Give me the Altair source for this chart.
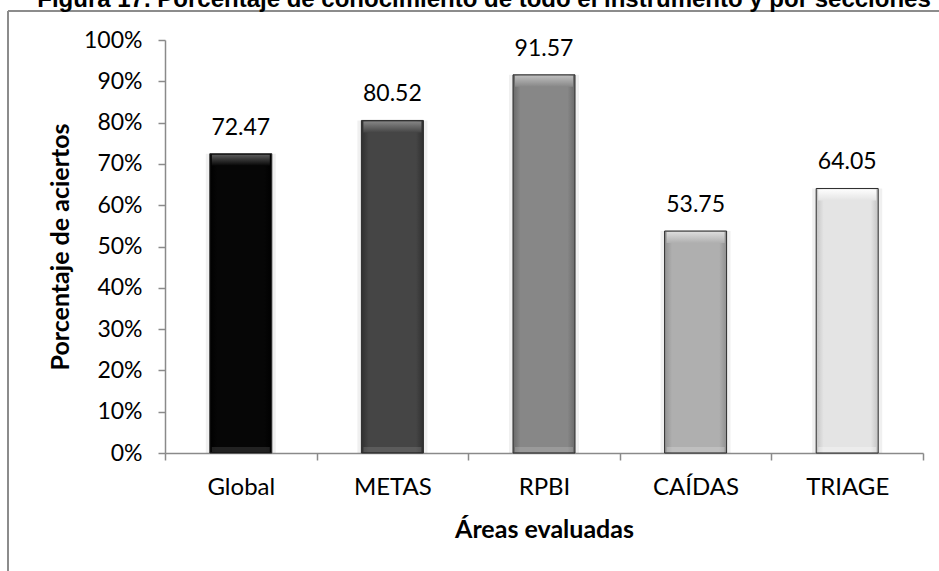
import altair as alt
import pandas as pd

# Areas evaluated and percentage of correct answers
areas = ["Global", "METAS", "RPBI", "CAÍDAS", "TRIAGE"]
pct = [72.47, 80.52, 91.57, 53.75, 64.05]

# Bar styling (base fill, darker edge, lighter top bevel)
base = ["#060606", "#454545", "#878787", "#afafaf", "#e4e4e4"]
edge = ["#000000", "#303030", "#6a6a6a", "#909090", "#c4c4c4"]
bevel = ["#5a5a5a", "#858585", "#bdbdbd", "#dcdcdc", "#fdfdfd"]

TITLE = "Figura 17. Porcentaje de conocimiento de todo el instrumento y por secciones"
X_TITLE = "Áreas evaluadas"
Y_TITLE = "Porcentaje de aciertos"

df = pd.DataFrame({"area": areas, "pct": pct})

W, H = 758, 413
LEFT, TOP = 165, 40
FONT = "Lato"
AXIS_GRAY = "#8a8a8a"

x_scale = alt.Scale(domain=areas, paddingInner=0, paddingOuter=0)
y_scale = alt.Scale(domain=[0, 1])

x_axis = alt.Axis(
    titleFont=FONT, titleFontSize=25, titleFontWeight="bold", titleColor="#000",
    titleBaseline="alphabetic", titleAlign="center", titleX=W / 2, titleY=84,
    labelFont=FONT, labelFontSize=24, labelColor="#000", labelAngle=0,
    labelBaseline="alphabetic", labelPadding=34,
    tickBand="extent", tickSize=7, tickColor=AXIS_GRAY, tickWidth=1.5,
    domainColor=AXIS_GRAY, domainWidth=1.5,
)
y_axis = alt.Axis(
    titleFont=FONT, titleFontSize=25, titleFontWeight="bold", titleColor="#000",
    titleAngle=-90, titleAlign="center", titleBaseline="middle",
    titleX=60 - LEFT, titleY=H / 2,
    labelFont=FONT, labelFontSize=23, labelColor="#000", labelPadding=16,
    values=[i / 10 for i in range(11)], format=".0%",
    tickSize=7, tickColor=AXIS_GRAY, tickWidth=1.5,
    domainColor=AXIS_GRAY, domainWidth=1.5, grid=False,
)

base_chart = alt.Chart(df).transform_calculate(frac="datum.pct / 100")


def xenc(axis=alt.Undefined):
    return alt.X("area:N", sort=areas, scale=x_scale, axis=axis, title=X_TITLE)


def yenc(axis=alt.Undefined):
    return alt.Y("frac:Q", scale=y_scale, axis=axis, title=Y_TITLE)


layers = []

# Axes (drawn with an invisible bar layer)
layers.append(base_chart.mark_bar(opacity=0).encode(x=xenc(x_axis), y=yenc(y_axis)))

for i, a in enumerate(areas):
    sub = base_chart.transform_filter(alt.datum.area == a)
    # soft shadow around the bar
    layers.append(
        sub.mark_bar(size=70, color="#000000", opacity=0.06).encode(
            x=xenc(), y=yenc(), y2=alt.datum(0)
        )
    )
    # bar body with darker side edges
    grad = alt.LinearGradient(
        gradient="linear", x1=0, x2=1, y1=0, y2=0,
        stops=[
            alt.GradientStop(offset=0, color=edge[i]),
            alt.GradientStop(offset=0.12, color=base[i]),
            alt.GradientStop(offset=0.88, color=base[i]),
            alt.GradientStop(offset=1, color=edge[i]),
        ],
    )
    layers.append(
        sub.mark_bar(size=62, color=grad, stroke="#2b2b2b", strokeWidth=1).encode(
            x=xenc(), y=yenc(), y2=alt.datum(0)
        )
    )
    # top bevel
    top_grad = alt.LinearGradient(
        gradient="linear", x1=0, x2=0, y1=0, y2=1,
        stops=[
            alt.GradientStop(offset=0, color=bevel[i]),
            alt.GradientStop(offset=1, color=base[i]),
        ],
    )
    layers.append(
        sub.mark_bar(size=58, color=top_grad, y2Offset=12, yOffset=1).encode(
            x=xenc(), y=yenc(), y2=alt.Y2("frac:Q")
        )
    )
    # bottom bevel
    layers.append(
        sub.mark_bar(size=58, color=bevel[i], opacity=0.35, yOffset=-6, y2Offset=-1).encode(
            x=xenc(), y=alt.datum(0), y2=alt.datum(0)
        )
    )

# value labels above bars
layers.append(
    base_chart.mark_text(font=FONT, fontSize=23, color="#000", baseline="alphabetic", dy=-19).encode(
        x=xenc(), y=yenc(), text=alt.Text("pct:Q", format=".2f"),
    )
)

one = pd.DataFrame({"k": [0]})

# frame lines (top and left edges)
layers.append(
    alt.Chart(one).mark_rule(color="#8c8c8c", strokeWidth=2).encode(
        x=alt.value(8 - LEFT), x2=alt.value(939 - LEFT + 5), y=alt.value(11 - TOP)
    )
)
layers.append(
    alt.Chart(one).mark_rule(color="#8c8c8c", strokeWidth=2).encode(
        x=alt.value(8 - LEFT), y=alt.value(11 - TOP), y2=alt.value(571 - TOP + 5)
    )
)

# figure caption above the frame
layers.append(
    alt.Chart(one).mark_text(
        font="Liberation Sans", fontSize=24, fontWeight="bold", color="#000",
        align="center", baseline="alphabetic",
    ).encode(x=alt.value(484 - LEFT), y=alt.value(7 - TOP), text=alt.value(TITLE))
)

chart = alt.layer(*layers).properties(
    width=W,
    height=H,
    autosize=alt.AutoSizeParams(type="none"),
    padding={"left": LEFT, "top": TOP, "right": 939 - LEFT - W, "bottom": 571 - TOP - H},
).configure_view(stroke=None)

chart.save("out.html", embed_options={"renderer": "svg", "actions": False})
